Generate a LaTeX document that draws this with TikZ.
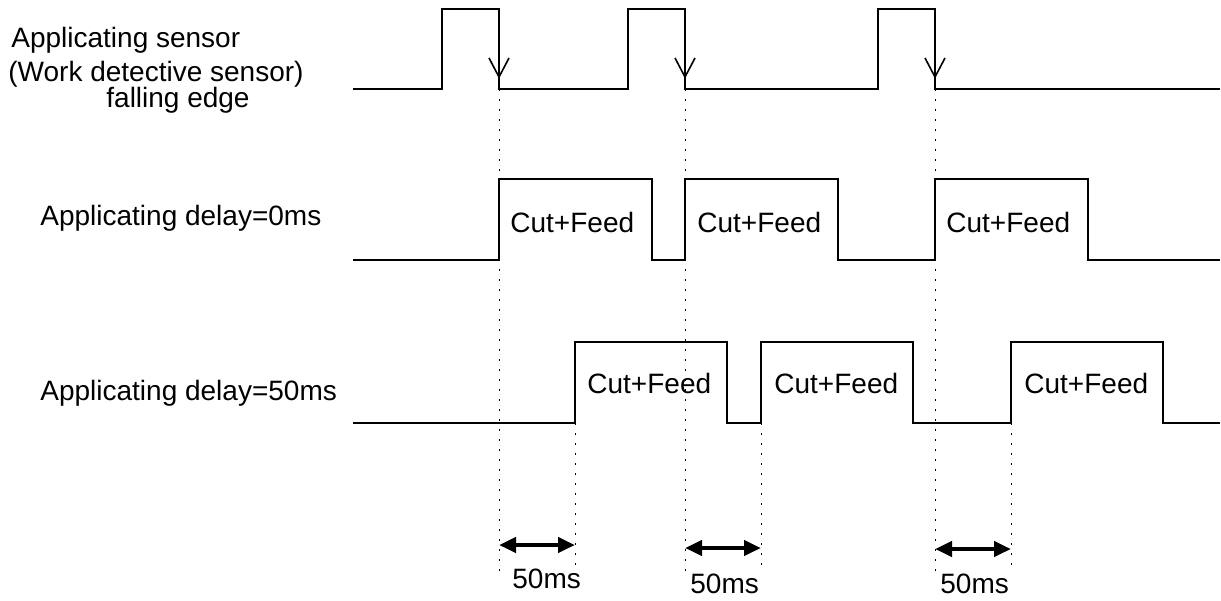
\documentclass[tikz,border=0pt]{standalone}
\usepackage{fontspec}
\setmainfont{Liberation Sans}
\usetikzlibrary{arrows.meta}
\begin{document}
\begin{tikzpicture}[x=0.5pt,y=-0.5pt,
  wave/.style={line width=1pt, line join=miter},
  guide/.style={line width=0.5pt, dash pattern=on 1pt off 4pt},
  lbl/.style={inner sep=0pt, anchor=base west, font=\fontsize{14}{16}\selectfont},
  span/.style={line width=2.2pt, {Triangle[length=8.5pt,width=7.5pt]}-{Triangle[length=8.5pt,width=7.5pt]}},
  edgemark/.style={line width=0.8pt}]
\useasboundingbox (0,0) rectangle (1221,600);

% sensor falling edges and delayed rising edges
\coordinate (f1) at (499,89);  \coordinate (f2) at (685,89);  \coordinate (f3) at (935,89);
\coordinate (d1) at (575,423); \coordinate (d2) at (761,423); \coordinate (d3) at (1011,423);

% guide lines from the falling edges and delayed starts
\foreach \i in {1,2,3} {
  \draw[guide] (f\i) -- (f\i |- 0,572);
  \draw[guide] (d\i) -- (d\i |- 0,572);
}

% applicating sensor signal
\draw[wave] (353,89) -- (442,89) -- (442,9) -- (499,9) -- (499,89)
  -- (628,89) -- (628,9) -- (685,9) -- (685,89)
  -- (878,89) -- (878,9) -- (935,9) -- (935,89) -- (1220,89);

% falling edge marks
\foreach \x in {499,685,935}
  \draw[edgemark] (\x-10,58) -- (\x,77) -- (\x+10,58);

% delay = 0 ms
\draw[wave] (353,260) -- (499,260) -- (499,179) -- (652,179) -- (652,260)
  -- (685,260) -- (685,179) -- (838,179) -- (838,260)
  -- (935,260) -- (935,179) -- (1088,179) -- (1088,260) -- (1220,260);

% delay = 50 ms
\draw[wave] (353,423) -- (575,423) -- (575,342) -- (727,342) -- (727,423)
  -- (761,423) -- (761,342) -- (913,342) -- (913,423)
  -- (1011,423) -- (1011,342) -- (1163,342) -- (1163,423) -- (1220,423);

% 50 ms spans
\coordinate (s1a) at (499,545); \coordinate (s1b) at (575,545);
\coordinate (s2a) at (685,548); \coordinate (s2b) at (761,548);
\coordinate (s3a) at (935,549); \coordinate (s3b) at (1011,549);
\foreach \i in {1,2,3} \draw[span] (s\i a) -- (s\i b);

% labels
\node[lbl] (l1) at (11,47) {Applicating sensor};
\node[lbl] (l2) at (8,81) {(Work detective sensor)};
\node[lbl] (l3) at (106,107) {falling edge};
\node[lbl] (l4) at (40,225) {Applicating delay=0ms};
\node[lbl] (l5) at (40,400) {Applicating delay=50ms};

\node[lbl] (c1) at (510,232) {Cut+Feed};
\node[lbl] (c2) at (697,232) {Cut+Feed};
\node[lbl] (c3) at (946,232) {Cut+Feed};
\node[lbl] (c4) at (587,393) {Cut+Feed};
\node[lbl] (c5) at (774,393) {Cut+Feed};
\node[lbl] (c6) at (1024,393) {Cut+Feed};

\node[lbl] (m1) at (512,588) {50ms};
\node[lbl] (m2) at (690,593) {50ms};
\node[lbl] (m3) at (940,593) {50ms};
\end{tikzpicture}
\end{document}
